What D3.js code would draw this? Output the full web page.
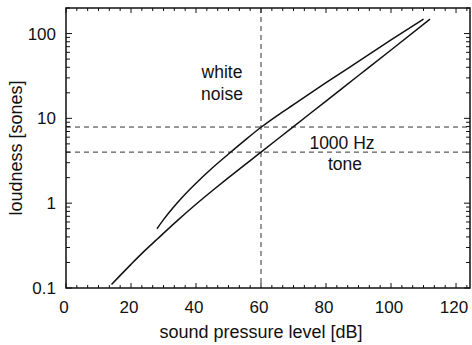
<!DOCTYPE html>
<html>
<head>
<meta charset="utf-8">
<script src="https://cdn.jsdelivr.net/npm/d3@7"></script>
<style>
  body { margin: 0; background: #fff; }
  text { font-family: "Liberation Sans", Arial, sans-serif; fill: #111; }
</style>
</head>
<body>
<svg id="chart" width="472" height="345"></svg>
<script>
// 1000 Hz tone: sound pressure level [dB] vs loudness [sones]
const toneLevel = [14, 20, 24, 28, 34, 40, 45, 50, 60, 70, 80, 90, 100, 112];
const toneSones = [0.11, 0.19, 0.27, 0.375, 0.61, 0.97, 1.4, 2.0, 4.0, 8.0, 16, 32, 64, 148];

// white noise
const noiseLevel = [28, 30, 33, 36, 40, 45, 50, 55, 60, 65, 70, 80, 90, 100, 110];
const noiseSones = [0.5, 0.64, 0.89, 1.2, 1.72, 2.6, 3.8, 5.5, 7.85, 10.8, 14.5, 26.3, 47, 84, 148];

const xTicks = [0, 20, 40, 60, 80, 100, 120];
const yTicks = [0.1, 1, 10, 100];
const yTickLabels = ["0.1", "1", "10", "100"];

// reference lines: 60 dB, and the loudness of each sound at 60 dB
const refLevel = 60;
const refSones = [7.9, 4.0];

(function() {
    const svg = d3.select('#chart');
    const pl = 66, pr = 470, pt = 8, pb = 288;   // plot box edges

    const x = d3.scaleLinear().domain([0, 124.3]).range([pl, pr]);
    const y = d3.scaleLog().domain([0.1, 200]).range([pb, pt]);

    // dashed reference lines
    svg.append('line')
        .attr('x1', x(refLevel)).attr('x2', x(refLevel))
        .attr('y1', pt).attr('y2', pb)
        .attr('stroke', '#333').attr('stroke-width', 1)
        .attr('stroke-dasharray', '5,4');
    refSones.forEach(function(s) {
        svg.append('line')
            .attr('x1', pl).attr('x2', pr)
            .attr('y1', y(s)).attr('y2', y(s))
            .attr('stroke', '#333').attr('stroke-width', 1)
            .attr('stroke-dasharray', '5,4');
    });

    // curves
    const line = d3.line()
        .x(d => x(d[0]))
        .y(d => y(d[1]))
        .curve(d3.curveMonotoneX);

    [[toneLevel, toneSones], [noiseLevel, noiseSones]].forEach(function(s) {
        svg.append('path')
            .datum(s[0].map((v, i) => [v, s[1][i]]))
            .attr('d', line)
            .attr('fill', 'none')
            .attr('stroke', '#111')
            .attr('stroke-width', 1.5);
    });

    // frame
    svg.append('rect')
        .attr('x', pl).attr('y', pt)
        .attr('width', pr - pl).attr('height', pb - pt)
        .attr('fill', 'none').attr('stroke', '#111').attr('stroke-width', 1.5);

    // x minor ticks (every 20/6 dB), inward on bottom and top
    d3.range(0, 125, 20 / 6).forEach(function(v) {
        const r = v % 20;
        const len = (r < 0.01 || r > 19.99) ? 5 : 3;
        svg.append('line').attr('x1', x(v)).attr('x2', x(v))
            .attr('y1', pb).attr('y2', pb - len)
            .attr('stroke', '#111').attr('stroke-width', 1);
        svg.append('line').attr('x1', x(v)).attr('x2', x(v))
            .attr('y1', pt).attr('y2', pt + len)
            .attr('stroke', '#111').attr('stroke-width', 1);
    });

    // y ticks: log minor ticks, inward on left and right
    const yMinor = [];
    [0.1, 1, 10, 100].forEach(function(d) {
        for (let k = 1; k <= 9; k++) {
            if (d * k <= 200) yMinor.push(d * k);
        }
    });
    yMinor.forEach(function(v) {
        const major = yTicks.some(t => Math.abs(t - v) < 1e-9);
        const len = major ? 6 : 4;
        svg.append('line').attr('x1', pl).attr('x2', pl + len)
            .attr('y1', y(v)).attr('y2', y(v))
            .attr('stroke', '#111').attr('stroke-width', 1);
        svg.append('line').attr('x1', pr).attr('x2', pr - len)
            .attr('y1', y(v)).attr('y2', y(v))
            .attr('stroke', '#111').attr('stroke-width', 1);
    });

    // tick labels
    svg.selectAll('.xl').data(xTicks).enter().append('text')
        .attr('x', d => x(d) - 2).attr('y', 313)
        .attr('text-anchor', 'middle')
        .attr('font-size', 17)
        .text(d => d);

    svg.selectAll('.yl').data(yTicks).enter().append('text')
        .attr('x', pl - 10).attr('y', d => y(d) + 6)
        .attr('text-anchor', 'end')
        .attr('font-size', 17)
        .text((d, i) => yTickLabels[i]);

    // axis titles
    svg.append('text')
        .attr('x', 261).attr('y', 338)
        .attr('text-anchor', 'middle')
        .attr('font-size', 18)
        .text('sound pressure level [dB]');

    svg.append('text')
        .attr('transform', 'translate(22,' + ((pt + pb) / 2) + ') rotate(-90)')
        .attr('text-anchor', 'middle')
        .attr('font-size', 18)
        .text('loudness [sones]');

    // curve labels
    svg.append('text').attr('x', 222).attr('y', 78)
        .attr('text-anchor', 'middle').attr('font-size', 17.5).text('white');
    svg.append('text').attr('x', 222).attr('y', 100)
        .attr('text-anchor', 'middle').attr('font-size', 17.5).text('noise');
    svg.append('text').attr('x', 342).attr('y', 149)
        .attr('text-anchor', 'middle').attr('font-size', 17.5).text('1000 Hz');
    svg.append('text').attr('x', 345).attr('y', 170)
        .attr('text-anchor', 'middle').attr('font-size', 17.5).text('tone');
})();
</script>
</body>
</html>
